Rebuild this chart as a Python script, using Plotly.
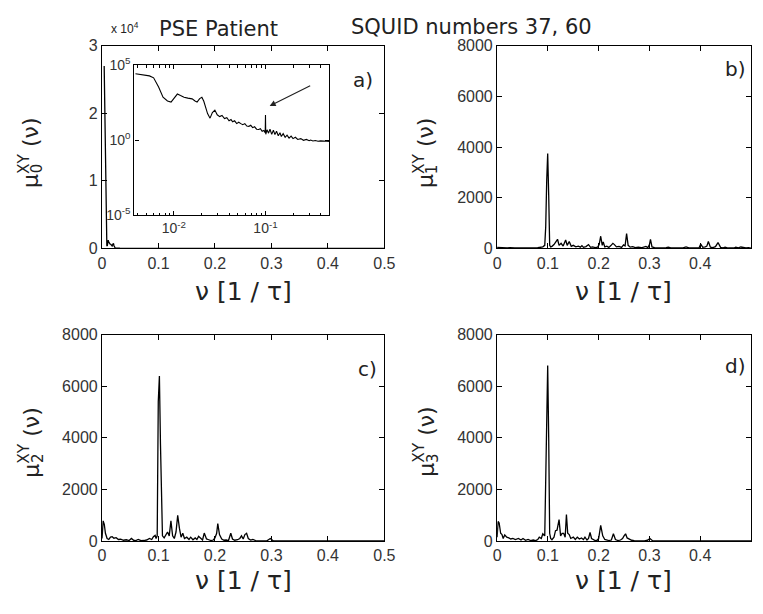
import plotly.graph_objects as go

# ---------------- data ----------------
# panel a) mu0 (same data, linear main axes and log-log inset)
f0 = [0.0038, 0.0046, 0.0054, 0.0060, 0.0068, 0.0076, 0.0085, 0.0093, 0.0102, 0.0109,
      0.0118, 0.0129, 0.0142, 0.0158, 0.0170, 0.0179, 0.0191, 0.0202, 0.0212, 0.0219,
      0.0233, 0.0248, 0.0263, 0.0280, 0.0297, 0.0316, 0.0335, 0.0357, 0.0378, 0.0400,
      0.0420, 0.0438, 0.0460, 0.0485, 0.0510, 0.0538, 0.0565, 0.0595, 0.0625, 0.0659,
      0.0690, 0.0725, 0.0760, 0.0800, 0.0843, 0.0880, 0.0920, 0.0960, 0.0993, 0.1000,
      0.1007, 0.1040, 0.1080, 0.1120, 0.1170, 0.1220, 0.1268, 0.1320, 0.1380, 0.1440,
      0.1490, 0.1560, 0.1640, 0.1720, 0.1810, 0.1905, 0.2000, 0.2120, 0.2250, 0.2430,
      0.2600, 0.2800, 0.3000, 0.3110, 0.3300, 0.3500, 0.3750, 0.4000, 0.4300, 0.4680,
      0.5000]
mu0 = [27000, 22000, 19500, 14500, 3500, 745, 420, 353, 800, 1210,
       950, 743, 650, 577, 420, 353, 600, 743, 400, 216,
       60, 30, 70, 103, 50, 38, 45, 28, 32, 20,
       24, 17, 20, 13, 16, 13, 11, 13, 9, 8.6,
       10, 7, 8, 5.5, 5.3, 6, 4, 4.5, 3.2, 49,
       2.5, 5, 3, 5.5, 2.5, 4.8, 2.4, 4, 2, 3.2,
       1.8, 2.8, 1.6, 2.2, 1.4, 1.9, 1.3, 1.6, 1.15, 1.3,
       1.0, 1.15, 0.95, 1.05, 0.9, 0.98, 0.88, 0.92, 0.85, 0.87,
       0.84]

# panel b) mu1
f1 = [0.000, 0.005, 0.010, 0.015, 0.020, 0.025, 0.030, 0.035, 0.040, 0.045,
      0.050, 0.055, 0.060, 0.065, 0.070, 0.075, 0.080, 0.085, 0.090, 0.0938,
      0.0957, 0.0977, 0.0996, 0.1016, 0.1035, 0.1055, 0.108, 0.112, 0.116, 0.119,
      0.122, 0.126, 0.130, 0.135, 0.138, 0.142, 0.146, 0.150, 0.155, 0.160,
      0.164, 0.167, 0.170, 0.175, 0.180, 0.184, 0.188, 0.193, 0.198, 0.201,
      0.204, 0.207, 0.209, 0.212, 0.216, 0.220, 0.224, 0.228, 0.231, 0.235,
      0.240, 0.245, 0.249, 0.252, 0.255, 0.258, 0.262, 0.267, 0.272, 0.278,
      0.284, 0.289, 0.293, 0.297, 0.300, 0.302, 0.305, 0.310, 0.316, 0.322,
      0.328, 0.333, 0.337, 0.342, 0.348, 0.354, 0.360, 0.366, 0.372, 0.378,
      0.384, 0.390, 0.395, 0.398, 0.401, 0.405, 0.410, 0.413, 0.416, 0.420,
      0.425, 0.430, 0.435, 0.440, 0.445, 0.449, 0.455, 0.460, 0.466, 0.470,
      0.475, 0.480, 0.485, 0.490, 0.495, 0.500]
mu1 = [40, 30, 20, 35, 15, 25, 10, 20, 15, 25,
       10, 20, 15, 10, 20, 15, 25, 40, 60, 120,
       850, 2700, 3750, 2100, 120, 60, 80, 150, 250, 360,
       120, 200, 90, 330, 120, 270, 80, 120, 60, 90,
       50, 110, 40, 70, 150, 40, 60, 30, 50, 150,
       480, 120, 250, 60, 90, 40, 110, 200, 150, 60,
       80, 40, 140, 100, 580, 120, 50, 70, 30, 50,
       25, 60, 80, 30, 150, 360, 60, 30, 20, 35,
       15, 30, 50, 20, 15, 25, 15, 20, 60, 20,
       15, 25, 40, 30, 170, 40, 60, 90, 270, 50,
       30, 70, 230, 40, 20, 50, 15, 20, 15, 50,
       20, 55, 20, 15, 25, 10]

# panel c) mu2
f2 = [0.000, 0.002, 0.004, 0.006, 0.009, 0.012, 0.015, 0.018, 0.021, 0.025,
      0.029, 0.033, 0.038, 0.043, 0.048, 0.052, 0.056, 0.060, 0.064, 0.069,
      0.074, 0.079, 0.084, 0.088, 0.091, 0.094, 0.0957, 0.0977, 0.0996, 0.1016,
      0.1035, 0.1055, 0.107, 0.110, 0.113, 0.116, 0.119, 0.122, 0.125, 0.128,
      0.131, 0.134, 0.137, 0.140, 0.143, 0.146, 0.150, 0.154, 0.157, 0.161,
      0.165, 0.168, 0.171, 0.174, 0.178, 0.181, 0.185, 0.189, 0.193, 0.197,
      0.200, 0.203, 0.205, 0.208, 0.212, 0.216, 0.220, 0.224, 0.228, 0.231,
      0.235, 0.240, 0.244, 0.247, 0.250, 0.253, 0.256, 0.259, 0.263, 0.267,
      0.272, 0.278, 0.285, 0.292, 0.298, 0.303, 0.310, 0.320, 0.330, 0.340,
      0.350, 0.360, 0.370, 0.380, 0.390, 0.400, 0.410, 0.420, 0.430, 0.440,
      0.450, 0.460, 0.470, 0.480, 0.490, 0.500]
mu2 = [100, 780, 650, 300, 100, 60, 150, 170, 110, 130,
       60, 70, 30, 50, 20, 100, 30, 20, 60, 15,
       20, 40, 100, 60, 170, 220, 100, 200, 5400, 6400,
       3750, 780, 200, 120, 250, 350, 200, 780, 200, 100,
       350, 1000, 500, 150, 300, 100, 150, 60, 150, 50,
       120, 60, 180, 120, 40, 310, 80, 50, 20, 40,
       120, 300, 680, 250, 80, 30, 40, 20, 300, 80,
       30, 50, 100, 200, 80, 250, 300, 100, 40, 60,
       20, 10, 15, 10, 100, 10, 5, 8, 4, 6,
       3, 5, 4, 6, 3, 5, 4, 3, 5, 4,
       3, 4, 3, 5, 3, 4]

# panel d) mu3
f3 = [0.000, 0.002, 0.004, 0.007, 0.0096, 0.012, 0.015, 0.019, 0.023, 0.027,
      0.031, 0.036, 0.042, 0.047, 0.051, 0.056, 0.061, 0.066, 0.071, 0.076,
      0.080, 0.083, 0.087, 0.090, 0.0938, 0.0957, 0.0977, 0.0996, 0.1016, 0.1035,
      0.1055, 0.108, 0.112, 0.115, 0.118, 0.122, 0.125, 0.128, 0.131, 0.134,
      0.1365, 0.139, 0.142, 0.145, 0.150, 0.154, 0.158, 0.162, 0.166, 0.170,
      0.173, 0.177, 0.180, 0.183, 0.186, 0.189, 0.193, 0.197, 0.200, 0.204,
      0.208, 0.212, 0.216, 0.220, 0.225, 0.229, 0.233, 0.238, 0.243, 0.247,
      0.250, 0.253, 0.256, 0.260, 0.265, 0.270, 0.276, 0.283, 0.290, 0.296,
      0.301, 0.306, 0.312, 0.320, 0.330, 0.340, 0.350, 0.360, 0.370, 0.380,
      0.390, 0.400, 0.410, 0.420, 0.430, 0.440, 0.450, 0.460, 0.470, 0.480,
      0.490, 0.500]
mu3 = [150, 760, 700, 300, 250, 100, 240, 150, 120, 80,
       100, 60, 100, 40, 100, 30, 60, 20, 40, 15,
       60, 150, 100, 280, 200, 2400, 5700, 6800, 4000, 300,
       100, 50, 150, 400, 420, 830, 200, 300, 300, 150,
       1030, 300, 250, 100, 150, 60, 150, 80, 120, 60,
       150, 40, 100, 330, 100, 50, 20, 30, 100, 610,
       200, 60, 30, 20, 40, 280, 60, 20, 40, 100,
       200, 280, 120, 80, 30, 15, 10, 20, 10, 30,
       100, 15, 10, 6, 4, 6, 3, 5, 4, 6,
       3, 5, 4, 3, 5, 4, 3, 4, 3, 5,
       3, 4]

x_ticks = [0, 0.1, 0.2, 0.3, 0.4, 0.5]
x_ticks_right = [0, 0.1, 0.2, 0.3, 0.4]
a_yticks = [0, 10000, 20000, 30000]
a_yticktext = ["0", "1", "2", "3"]
bcd_yticks = [0, 2000, 4000, 6000, 8000]
inset_xticks = [0.01, 0.1]
inset_xticktext = ["10<sup>-2</sup>", "10<sup>-1</sup>"]
inset_yticks = [1e-5, 1, 1e5]
inset_yticktext = ["10<sup>-5</sup>", "10<sup>0</sup>", "10<sup>5</sup>"]
inset_minor = [0.004, 0.005, 0.006, 0.007, 0.008, 0.009,
               0.02, 0.03, 0.04, 0.05, 0.06, 0.07, 0.08, 0.09,
               0.2, 0.3, 0.4]

# ---------------- layout helpers ----------------
W, H = 763, 614
def px(x):
    return x / W
def py(y):
    return 1 - y / H

LINE = dict(color="black", width=1.3)
TICKFONT = dict(family="Liberation Sans, Arial, sans-serif", size=16, color="#333")
TFONT = "DejaVu Sans, sans-serif"

fig = go.Figure()
fig.add_trace(go.Scatter(x=f0, y=mu0, mode="lines", line=LINE, xaxis="x", yaxis="y"))
fig.add_trace(go.Scatter(x=f1, y=mu1, mode="lines", line=LINE, xaxis="x2", yaxis="y2"))
fig.add_trace(go.Scatter(x=f2, y=mu2, mode="lines", line=LINE, xaxis="x3", yaxis="y3"))
fig.add_trace(go.Scatter(x=f3, y=mu3, mode="lines", line=LINE, xaxis="x4", yaxis="y4"))
fig.add_trace(go.Scatter(x=f0, y=mu0, mode="lines", line=dict(color="black", width=1.1),
                         xaxis="x5", yaxis="y5"))

def ax(domain, anchor, rng, tickvals, ticktext=None, **kw):
    d = dict(domain=domain, anchor=anchor, range=rng, showline=True, linecolor="black",
             linewidth=1.3, mirror="ticks", ticks="inside", ticklen=5, tickcolor="black",
             showgrid=False, zeroline=False, tickvals=tickvals, tickfont=TICKFONT,
             fixedrange=True)
    if ticktext is not None:
        d["ticktext"] = ticktext
    d.update(kw)
    return d

xL = [px(100), px(388)]
xR = [px(503), px(762)]
yT = [py(246), py(37)]
yB = [py(548), py(335)]

xt = ["0", "0.1", "0.2", "0.3", "0.4", "0.5"]
small = dict(family=TICKFONT["family"], size=14, color="#333")
layout = dict(
    width=W, height=H, margin=dict(l=0, r=0, t=0, b=0),
    paper_bgcolor="white", plot_bgcolor="white", showlegend=False,
    xaxis=ax(xL, "y", [0, 0.5], x_ticks, xt),
    yaxis=ax(yT, "x", [0, 30000], a_yticks, a_yticktext),
    xaxis2=ax(xR, "y2", [0, 0.5], x_ticks_right, xt[:5]),
    yaxis2=ax(yT, "x2", [0, 8000], bcd_yticks),
    xaxis3=ax(xL, "y3", [0, 0.5], x_ticks, xt),
    yaxis3=ax(yB, "x3", [0, 8000], bcd_yticks),
    xaxis4=ax(xR, "y4", [0, 0.5], x_ticks_right, xt[:5]),
    yaxis4=ax(yB, "x4", [0, 8000], bcd_yticks),
    xaxis5=ax([px(133), px(332)], "y5", [-2.432, -0.301], inset_xticks, inset_xticktext,
              type="log", ticklen=4, tickfont=small,
              minor=dict(ticks="inside", ticklen=2.5, tickcolor="black", tickvals=inset_minor)),
    yaxis5=ax([py(212), py(57)], "x5", [-5, 5], inset_yticks, inset_yticktext,
              type="log", ticklen=4, tickfont=small),
)
fig.update_layout(**layout)

ann = []
def text(x, y, t, size, family=TFONT, angle=0, color="#222"):
    ann.append(dict(x=px(x), y=py(y), xref="paper", yref="paper", text=t, showarrow=False,
                    xanchor="center", yanchor="middle", textangle=angle,
                    font=dict(family=family, size=size, color=color)))

text(219, 20, "PSE Patient", 21)
text(477, 18, "SQUID numbers 37, 60", 21)
text(123, 19, "x 10<sup>4</sup>", 12, family=TICKFONT["family"])
for cx, cy in [(244, 291), (632, 291), (244, 589), (632, 589)]:
    text(cx, cy, "ν [1 / τ]", 25)
for (cx, cy, lab) in [(366, 72, "a)"), (746, 61, "b)"), (371, 370, "c)"), (746, 367, "d)")]:
    text(cx, cy, lab, 20)
for (cx, cy, sub) in [(26, 147, "0"), (429, 148, "1"), (26, 446, "2"), (429, 446, "3")]:
    text(cx, cy, "μ<sup>XY</sup> (ν)", 22, angle=-90)
    text(cx + 8, cy + 16, sub, 15, angle=-90)

# arrow in inset
ann.append(dict(x=px(271), y=py(99), xref="paper", yref="paper", ax=42, ay=-21,
                showarrow=True, arrowhead=2, arrowsize=1, arrowwidth=1.2,
                arrowcolor="#222", text=""))
fig.update_layout(annotations=ann)

fig.write_html("out.html", config=dict(displayModeBar=False))
